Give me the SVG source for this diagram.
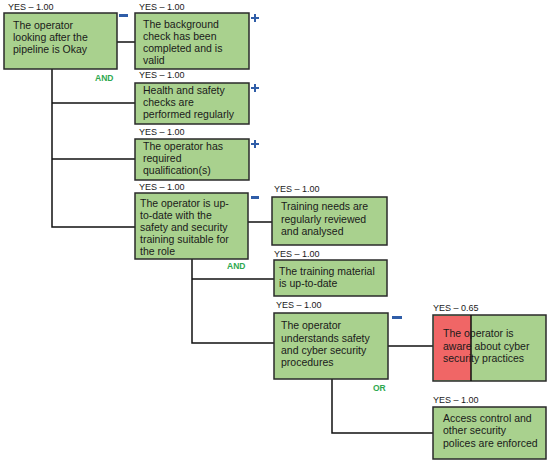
<svg xmlns="http://www.w3.org/2000/svg" width="550" height="463" viewBox="0 0 550 463">
<style>
.box{fill:#A9D18E;stroke:#2a2a2a;stroke-width:1.5}
.red{fill:#F06666;stroke:none}
.t{font-family:"Liberation Sans",Arial,sans-serif;font-size:10.5px;fill:#1a1a1a}
.y{font-family:"Liberation Sans",Arial,sans-serif;font-size:9px;fill:#1a1a1a}
.g{font-family:"Liberation Sans",Arial,sans-serif;font-size:8.5px;font-weight:bold;fill:#2EA84F}
.c{fill:none;stroke:#111;stroke-width:1.5}
.s{fill:#2F5DA8}
</style>
<rect width="550" height="463" fill="#fff"/>
<g id="connectors">
<path class="c" d="M117,42H135"/>
<path class="c" d="M52,69V227H135"/>
<path class="c" d="M52,103H135"/>
<path class="c" d="M52,159H135"/>
<path class="c" d="M248,222H272"/>
<path class="c" d="M192,259V343H274"/>
<path class="c" d="M192,279H274"/>
<path class="c" d="M388,346H433"/>
<path class="c" d="M332,379V433H433"/>
</g>
<g id="logic">
<text class="g" x="95" y="81">AND</text>
<text class="g" x="227" y="269">AND</text>
<text class="g" x="373" y="391">OR</text>
</g>
<g id="n1">
<text class="y" x="8" y="10">YES – 1.00</text>
<rect class="box" x="4" y="13" width="113" height="56"/>
<text class="t" x="13" y="29">The operator</text>
<text class="t" x="13" y="41">looking after the</text>
<text class="t" x="13" y="53">pipeline is Okay</text>
<rect class="s" x="119" y="14" width="9" height="3"/>
</g>
<g id="n2">
<text class="y" x="139" y="10">YES – 1.00</text>
<rect class="box" x="135" y="13" width="114" height="56"/>
<text class="t" x="143" y="28">The background</text>
<text class="t" x="143" y="40">check has been</text>
<text class="t" x="143" y="52">completed and is</text>
<text class="t" x="143" y="64">valid</text>
<path class="s" d="M251,17h8v2h-8zM254,14h2v8h-2z"/>
</g>
<g id="n3">
<text class="y" x="139" y="78">YES – 1.00</text>
<rect class="box" x="135" y="83" width="114" height="41"/>
<text class="t" x="143" y="94">Health and safety</text>
<text class="t" x="143" y="106">checks are</text>
<text class="t" x="143" y="118">performed regularly</text>
<path class="s" d="M251,87h8v2h-8zM254,84h2v8h-2z"/>
</g>
<g id="n4">
<text class="y" x="139" y="135">YES – 1.00</text>
<rect class="box" x="135" y="139" width="114" height="41"/>
<text class="t" x="143" y="150">The operator has</text>
<text class="t" x="143" y="162">required</text>
<text class="t" x="143" y="174">qualification(s)</text>
<path class="s" d="M251,143h8v2h-8zM254,140h2v8h-2z"/>
</g>
<g id="n5">
<text class="y" x="139" y="190">YES – 1.00</text>
<rect class="box" x="135" y="193" width="113" height="66"/>
<text class="t" x="140" y="207">The operator is up-</text>
<text class="t" x="140" y="219">to-date with the</text>
<text class="t" x="140" y="231">safety and security</text>
<text class="t" x="140" y="243">training suitable for</text>
<text class="t" x="140" y="255">the role</text>
<rect class="s" x="251" y="196" width="8" height="3"/>
</g>
<g id="n6">
<text class="y" x="274" y="192">YES – 1.00</text>
<rect class="box" x="272" y="197" width="115" height="48"/>
<text class="t" x="281" y="210">Training needs are</text>
<text class="t" x="281" y="223">regularly reviewed</text>
<text class="t" x="281" y="235">and analysed</text>
</g>
<g id="n7">
<text class="y" x="274" y="257">YES – 1.00</text>
<rect class="box" x="274" y="260" width="113" height="36"/>
<text class="t" x="279" y="275">The training material</text>
<text class="t" x="279" y="287">is up-to-date</text>
</g>
<g id="n8">
<text class="y" x="276" y="308">YES – 1.00</text>
<rect class="box" x="274" y="313" width="114" height="66"/>
<text class="t" x="281" y="329">The operator</text>
<text class="t" x="281" y="342">understands safety</text>
<text class="t" x="281" y="354">and cyber security</text>
<text class="t" x="281" y="366">procedures</text>
<rect class="s" x="392" y="316" width="10" height="3"/>
</g>
<g id="n9">
<text class="y" x="433" y="311">YES – 0.65</text>
<rect class="box" x="433" y="315" width="113" height="66"/>
<rect class="red" x="434" y="316" width="37" height="64"/>
<path class="c" d="M471,315V381"/>
<text class="t" x="443" y="337">The operator is</text>
<text class="t" x="443" y="350">aware about cyber</text>
<text class="t" x="443" y="362">security practices</text>
</g>
<g id="n10">
<text class="y" x="433" y="403">YES – 1.00</text>
<rect class="box" x="433" y="407" width="113" height="52"/>
<text class="t" x="443" y="422">Access control and</text>
<text class="t" x="443" y="434">other security</text>
<text class="t" x="443" y="447">polices are enforced</text>
</g>
</svg>
